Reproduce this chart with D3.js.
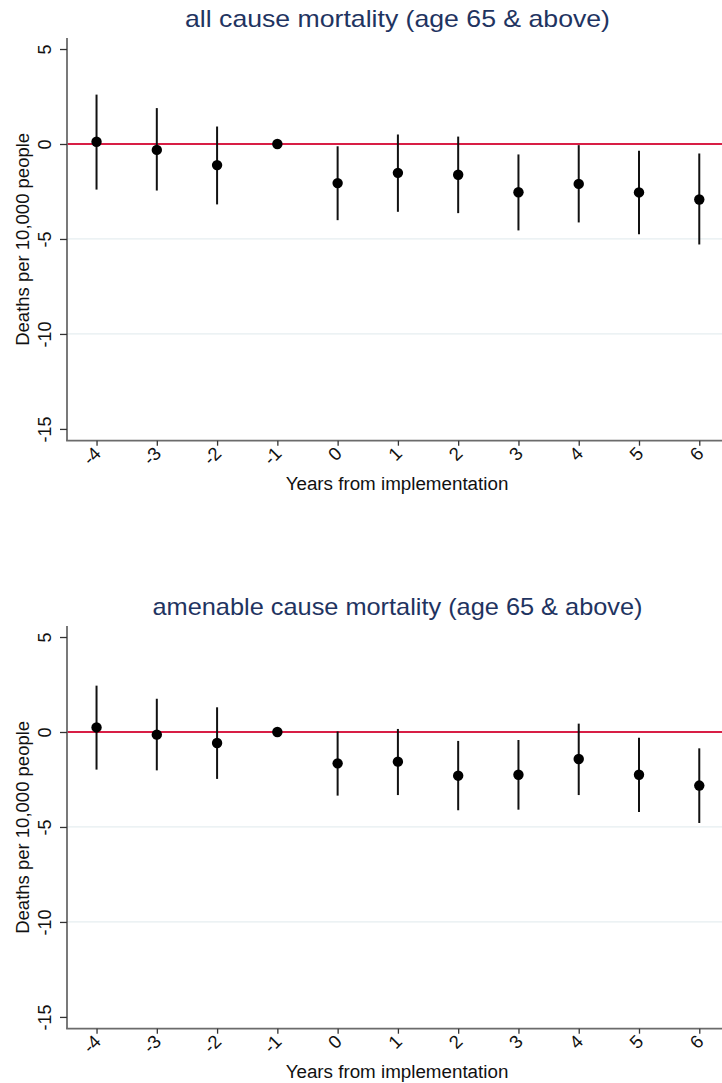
<!DOCTYPE html>
<html>
<head>
<meta charset="utf-8">
<script src="https://cdn.jsdelivr.net/npm/d3@7"></script>
<style>
  html, body { margin: 0; padding: 0; background: #ffffff; }
  svg { display: block; font-family: Arial, "Liberation Sans", Helvetica, sans-serif; }
</style>
</head>
<body>
<svg id="chart" width="722" height="1083"></svg>
<script>
// ---- data ----
const years = [-4, -3, -2, -1, 0, 1, 2, 3, 4, 5, 6];
const xTickLabels = ["-4", "-3", "-2", "-1", "0", "1", "2", "3", "4", "5", "6"];
const yTicks = [5, 0, -5, -10, -15];
const yGrid = [-5, -10];

const titles = ["all cause mortality (age 65 & above)", "amenable cause mortality (age 65 & above)"];
const yTitle = "Deaths per 10,000 people";
const xTitle = "Years from implementation";

const allCoef = [0.12, -0.31, -1.11, 0, -2.06, -1.52, -1.62, -2.54, -2.10, -2.55, -2.92];
const allLo   = [-2.40, -2.45, -3.18, null, -4.01, -3.57, -3.64, -4.55, -4.13, -4.75, -5.29];
const allHi   = [2.60, 1.89, 0.92, null, -0.12, 0.50, 0.39, -0.55, -0.06, -0.36, -0.50];

const amenCoef = [0.24, -0.14, -0.58, 0, -1.65, -1.56, -2.30, -2.25, -1.42, -2.25, -2.82];
const amenLo   = [-1.98, -2.02, -2.47, null, -3.35, -3.32, -4.12, -4.09, -3.32, -4.21, -4.79];
const amenHi   = [2.44, 1.75, 1.30, null, 0.03, 0.16, -0.47, -0.42, 0.44, -0.30, -0.86];

const panels = [
  { title: titles[0], coef: allCoef, lo: allLo, hi: allHi },
  { title: titles[1], coef: amenCoef, lo: amenLo, hi: amenHi }
];

// ---- layout ----
const svg = d3.select("#chart");
const panelOffset = 588;
const plotLeft = 67, plotRight = 727, plotTop = 38, plotBottom = 440.7;

const x = d3.scaleLinear().domain([-4.49, 6.46]).range([plotLeft, plotRight]);
const y = d3.scaleLinear().domain([-15.62, 5.58]).range([plotBottom, plotTop]);

const titleColor = "#1f3461";
const axisColor = "#6b6b6b";
const refColor = "#d81e45";

panels.forEach((p, i) => {
  const g = svg.append("g").attr("transform", `translate(0,${i * panelOffset})`);

  // gridlines
  g.selectAll("line.grid").data(yGrid).enter().append("line")
    .attr("class", "grid")
    .attr("x1", plotLeft).attr("x2", plotRight)
    .attr("y1", d => y(d)).attr("y2", d => y(d))
    .attr("stroke", "#e6eef0").attr("stroke-width", 1.2);

  // reference line at 0
  g.append("line")
    .attr("x1", plotLeft).attr("x2", plotRight)
    .attr("y1", y(0)).attr("y2", y(0))
    .attr("stroke", refColor).attr("stroke-width", 2);

  // y axis
  const yAxis = d3.axisLeft(y).tickValues(yTicks).tickSize(7).tickSizeOuter(0)
    .tickFormat(d => String(d));
  const ya = g.append("g").attr("transform", `translate(${plotLeft},0)`).call(yAxis);
  ya.select(".domain").attr("stroke", axisColor).attr("stroke-width", 1.8)
    .attr("d", `M0,${plotTop}V${plotBottom}`);
  ya.selectAll(".tick line").attr("stroke", "#333").attr("stroke-width", 1.3);
  ya.selectAll(".tick text")
    .attr("transform", "rotate(-90)")
    .attr("x", 0).attr("y", -16.5).attr("dy", 0)
    .attr("text-anchor", "middle")
    .attr("fill", "#111").attr("font-size", 18);

  // x axis
  const xAxis = d3.axisBottom(x).tickValues(years).tickSize(5).tickSizeOuter(0)
    .tickFormat((d, k) => xTickLabels[k]);
  const xa = g.append("g").attr("transform", `translate(0,${plotBottom})`).call(xAxis);
  xa.select(".domain").attr("stroke", axisColor).attr("stroke-width", 1.8)
    .attr("d", `M${plotLeft - 0.9},0H${plotRight}`);
  xa.selectAll(".tick line").attr("stroke", "#333").attr("stroke-width", 1.3);
  xa.selectAll(".tick text")
    .attr("x", 0).attr("y", 0).attr("dy", 0)
    .attr("transform", "translate(5,14) rotate(-45)")
    .attr("text-anchor", "end")
    .attr("fill", "#111").attr("font-size", 18.5);

  // error bars
  const idx = d3.range(years.length).filter(k => p.lo[k] != null);
  g.selectAll("line.ci").data(idx).enter().append("line")
    .attr("class", "ci")
    .attr("x1", k => x(years[k])).attr("x2", k => x(years[k]))
    .attr("y1", k => y(p.hi[k])).attr("y2", k => y(p.lo[k]))
    .attr("stroke", "#111").attr("stroke-width", 2);

  // points
  g.selectAll("circle.pt").data(d3.range(years.length)).enter().append("circle")
    .attr("class", "pt")
    .attr("cx", k => x(years[k])).attr("cy", k => y(p.coef[k]))
    .attr("r", 5.2).attr("fill", "#000");

  // titles
  g.append("text")
    .attr("x", 397.5).attr("y", 27)
    .attr("text-anchor", "middle")
    .attr("fill", titleColor).attr("font-size", 24)
    .attr("textLength", i === 0 ? 425 : 490).attr("lengthAdjust", "spacingAndGlyphs")
    .text(p.title);

  g.append("text")
    .attr("transform", `translate(29,${(plotTop + plotBottom) / 2}) rotate(-90)`)
    .attr("text-anchor", "middle")
    .attr("fill", "#111").attr("font-size", 18.5)
    .text(yTitle);

  g.append("text")
    .attr("x", 397).attr("y", 490)
    .attr("text-anchor", "middle")
    .attr("fill", "#111").attr("font-size", 18.8)
    .text(xTitle);
});
</script>
</body>
</html>
